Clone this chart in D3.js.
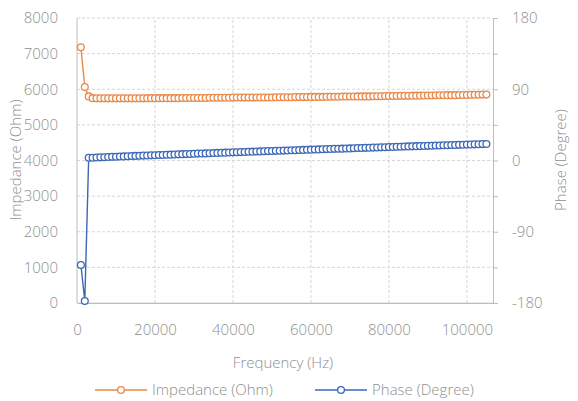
<!DOCTYPE html>
<html>
<head>
<meta charset="utf-8">
<script src="https://cdn.jsdelivr.net/npm/d3@7"></script>
<style>
  html, body { margin: 0; padding: 0; background: #fff; }
  svg { display: block; font-family: "Open Sans", "Noto Sans", sans-serif; font-weight: 300; }
</style>
</head>
<body>
<svg id="chart"></svg>
<script>
const width = 578;
const height = 401;

// frequency (Hz)
const freq = [
  1000, 2000, 3000, 4000, 5000, 6000, 7000, 8000, 9000, 10000,
  11000, 12000, 13000, 14000, 15000, 16000, 17000, 18000, 19000, 20000,
  21000, 22000, 23000, 24000, 25000, 26000, 27000, 28000, 29000, 30000,
  31000, 32000, 33000, 34000, 35000, 36000, 37000, 38000, 39000, 40000,
  41000, 42000, 43000, 44000, 45000, 46000, 47000, 48000, 49000, 50000,
  51000, 52000, 53000, 54000, 55000, 56000, 57000, 58000, 59000, 60000,
  61000, 62000, 63000, 64000, 65000, 66000, 67000, 68000, 69000, 70000,
  71000, 72000, 73000, 74000, 75000, 76000, 77000, 78000, 79000, 80000,
  81000, 82000, 83000, 84000, 85000, 86000, 87000, 88000, 89000, 90000,
  91000, 92000, 93000, 94000, 95000, 96000, 97000, 98000, 99000, 100000,
  101000, 102000, 103000, 104000, 105000
];

// impedance (Ohm)
const impedance = [
  7180, 6060, 5800,
  5750, 5745, 5745, 5745, 5745, 5745, 5745, 5745, 5745, 5745,
  5745, 5745, 5745, 5745, 5750, 5750, 5750, 5750, 5750, 5750,
  5750, 5750, 5750, 5755, 5755, 5755, 5755, 5755, 5755, 5755,
  5760, 5760, 5760, 5760, 5760, 5760, 5765, 5765, 5765, 5765,
  5765, 5765, 5770, 5770, 5770, 5770, 5770, 5775, 5775, 5775,
  5775, 5775, 5780, 5780, 5780, 5780, 5785, 5785, 5785, 5785,
  5790, 5790, 5790, 5790, 5795, 5795, 5795, 5795, 5800, 5800,
  5800, 5800, 5805, 5805, 5805, 5810, 5810, 5810, 5810, 5815,
  5815, 5815, 5820, 5820, 5820, 5825, 5825, 5825, 5830, 5830,
  5830, 5835, 5835, 5835, 5840, 5840, 5840, 5845, 5845, 5845,
  5850, 5850
];

// phase (degree)
const phase = [
  -132, -177.5, 3.4,
  3.5, 3.8, 4.0, 4.2, 4.4, 4.6, 4.8, 5.0, 5.2, 5.4,
  5.6, 5.8, 6.0, 6.2, 6.4, 6.5, 6.7, 6.9, 7.0, 7.2,
  7.4, 7.6, 7.8, 8.0, 8.1, 8.3, 8.5, 8.7, 8.9, 9.0,
  9.2, 9.4, 9.6, 9.8, 9.9, 10.1, 10.3, 10.5, 10.6, 10.8,
  11.0, 11.2, 11.3, 11.5, 11.7, 11.9, 12.0, 12.2, 12.4, 12.5,
  12.7, 12.9, 13.0, 13.2, 13.4, 13.5, 13.7, 13.9, 14.0, 14.2,
  14.4, 14.5, 14.7, 14.9, 15.0, 15.2, 15.3, 15.5, 15.7, 15.8,
  16.0, 16.2, 16.3, 16.5, 16.6, 16.8, 17.0, 17.1, 17.3, 17.4,
  17.6, 17.8, 17.9, 18.1, 18.2, 18.4, 18.5, 18.7, 18.9, 19.0,
  19.2, 19.3, 19.5, 19.6, 19.8, 19.9, 20.1, 20.2, 20.4, 20.5,
  20.7, 20.8
];

const xTicks = [0, 20000, 40000, 60000, 80000, 100000];
const yTicks = [0, 1000, 2000, 3000, 4000, 5000, 6000, 7000, 8000];
const y2Ticks = [-180, -135, -90, -45, 0, 45, 90, 135, 180];
const y2Labels = [-180, -90, 0, 90, 180];

const orange = "#e8894a";
const blue = "#3d68b5";
const textCol = "#8f8f8f";
const gridCol = "#d6d6d6";

const margin = { left: 77, right: 85, top: 18, bottom: 98 };

const svg = d3.select("#chart")
  .attr("width", width)
  .attr("height", height);

const x = d3.scaleLinear()
  .domain([0, 106700])
  .range([margin.left, width - margin.right]);

const y = d3.scaleLinear()
  .domain([0, 8000])
  .range([height - margin.bottom, margin.top]);

const y2 = d3.scaleLinear()
  .domain([-180, 180])
  .range([height - margin.bottom, margin.top]);

// grid
svg.append("g")
  .selectAll("line")
  .data(yTicks)
  .join("line")
  .attr("x1", x.range()[0])
  .attr("x2", x.range()[1])
  .attr("y1", d => y(d))
  .attr("y2", d => y(d))
  .attr("stroke", gridCol)
  .attr("stroke-dasharray", d => d === 0 ? null : "3,2")
  .attr("stroke-width", 1);

svg.append("g")
  .selectAll("line")
  .data(xTicks)
  .join("line")
  .attr("x1", d => x(d))
  .attr("x2", d => x(d))
  .attr("y1", y.range()[0])
  .attr("y2", y.range()[1])
  .attr("stroke", d => d === 0 ? "#bdbdbd" : gridCol)
  .attr("stroke-dasharray", d => d === 0 ? null : "3,2")
  .attr("stroke-width", 1);

// axes
const fontSize = "15px";

const xAxis = svg.append("g")
  .attr("transform", `translate(0,${y.range()[0]})`)
  .call(d3.axisBottom(x).tickValues(xTicks).tickFormat(d3.format("d")).tickSize(0).tickPadding(21));
xAxis.select(".domain").attr("stroke", "#bdbdbd");

const yAxis = svg.append("g")
  .attr("transform", `translate(${margin.left},0)`)
  .call(d3.axisLeft(y).tickValues(yTicks).tickFormat(d3.format("d")).tickSize(0).tickPadding(19));
yAxis.select(".domain").remove();

const y2Axis = svg.append("g")
  .attr("transform", `translate(${x.range()[1]},0)`)
  .call(d3.axisRight(y2).tickValues(y2Ticks)
    .tickFormat(d => y2Labels.includes(d) ? d : "")
    .tickSize(5).tickPadding(14));
y2Axis.select(".domain").attr("stroke", "#bdbdbd");
y2Axis.selectAll(".tick line").attr("stroke", "#bdbdbd");

svg.selectAll(".tick text")
  .attr("fill", textCol)
  .style("font-size", fontSize)
  .style("font-family", '"Open Sans", sans-serif')
  .style("font-weight", 300);

// series
const impData = freq.map((f, i) => ({ f, v: impedance[i] }));
const phData = freq.map((f, i) => ({ f, v: phase[i] }));

function drawSeries(data, yScale, color) {
  const g = svg.append("g");
  g.append("path")
    .datum(data)
    .attr("fill", "none")
    .attr("stroke", color)
    .attr("stroke-width", 1.4)
    .attr("d", d3.line().x(d => x(d.f)).y(d => yScale(d.v)));
  g.selectAll("circle")
    .data(data)
    .join("circle")
    .attr("cx", d => x(d.f))
    .attr("cy", d => yScale(d.v))
    .attr("r", 3.4)
    .attr("fill", "#fff")
    .attr("stroke", color)
    .attr("stroke-width", 1.3);
}

drawSeries(impData, y, orange);
drawSeries(phData, y2, blue);

// titles
svg.append("text")
  .attr("x", (x.range()[0] + x.range()[1]) / 2 - 2)
  .attr("y", 368)
  .attr("text-anchor", "middle")
  .attr("fill", textCol)
  .style("font-size", fontSize)
  .text("Frequency (Hz)");

svg.append("text")
  .attr("transform", `translate(21,160) rotate(-90)`)
  .attr("text-anchor", "middle")
  .attr("fill", textCol)
  .style("font-size", fontSize)
  .text("Impedance (Ohm)");

svg.append("text")
  .attr("transform", `translate(566,160) rotate(-90)`)
  .attr("text-anchor", "middle")
  .attr("fill", textCol)
  .style("font-size", fontSize)
  .text("Phase (Degree)");

// legend
const legend = [
  { label: "Impedance (Ohm)", color: orange, x0: 95 },
  { label: "Phase (Degree)", color: blue, x0: 315 }
];

const lg = svg.append("g").selectAll("g")
  .data(legend)
  .join("g")
  .attr("transform", d => `translate(${d.x0},390)`);

lg.append("line")
  .attr("x1", 0).attr("x2", 52)
  .attr("stroke", d => d.color)
  .attr("stroke-width", 1.4);

lg.append("circle")
  .attr("cx", 26)
  .attr("r", 3.4)
  .attr("fill", "#fff")
  .attr("stroke", d => d.color)
  .attr("stroke-width", 1.3);

lg.append("text")
  .attr("x", 57)
  .attr("dy", "0.35em")
  .attr("fill", textCol)
  .style("font-size", fontSize)
  .text(d => d.label);
</script>
</body>
</html>
